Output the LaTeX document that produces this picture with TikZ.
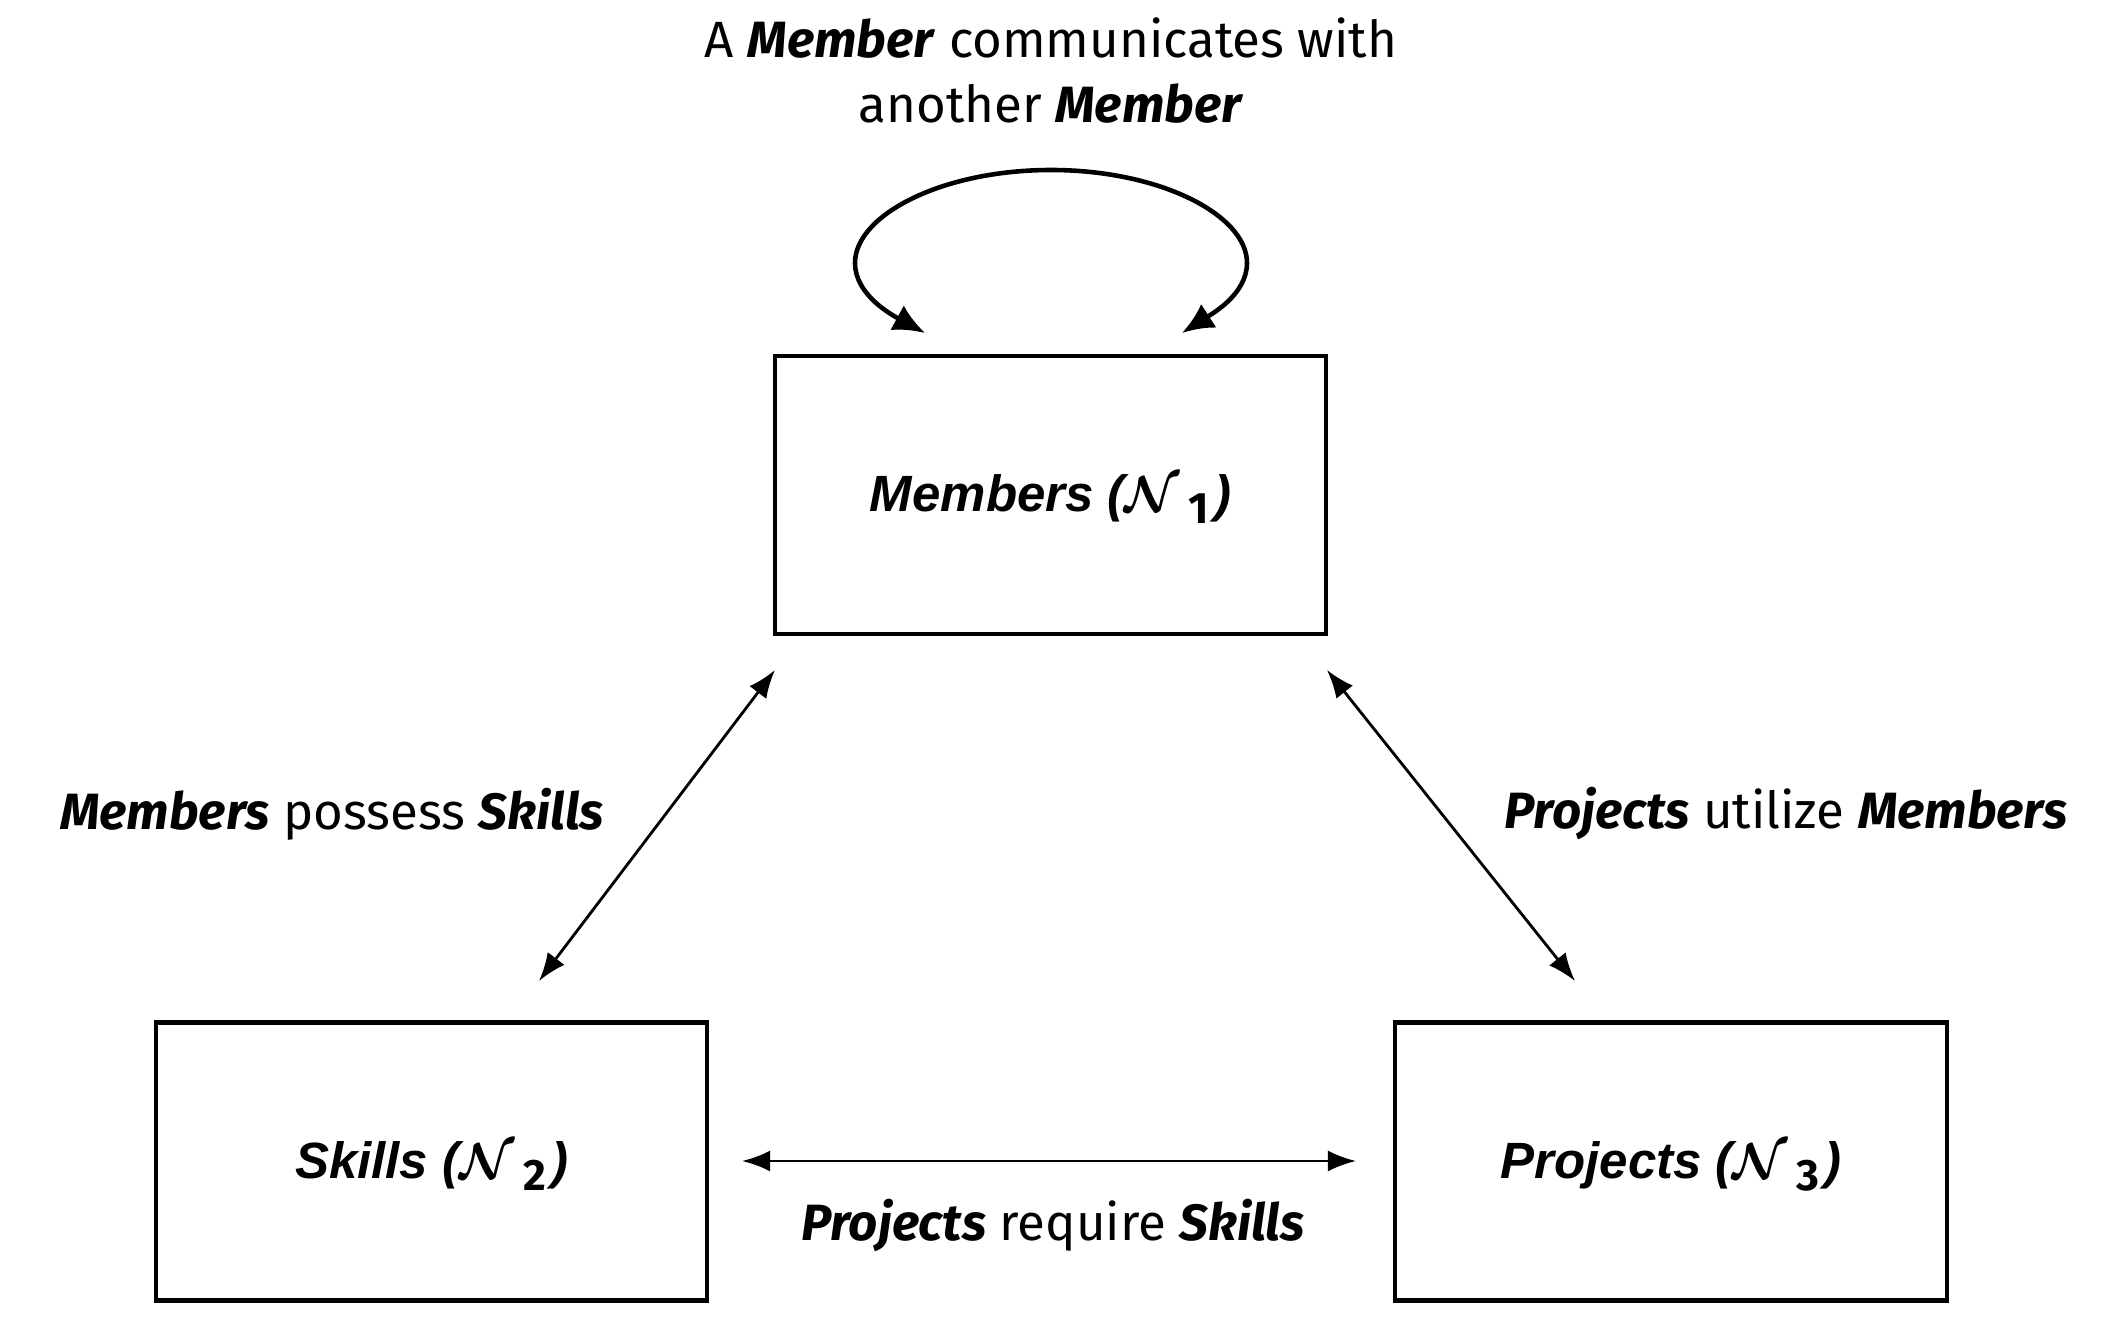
\documentclass[tikz,border=0pt]{standalone}
\usepackage{amsmath}
\usepackage{fontspec}
\setmainfont{Fira Sans}
\newfontfamily\boxfont{Liberation Sans}
\usetikzlibrary{arrows.meta}
\newcommand{\subN}[1]{$\boldsymbol{\mathcal{N}}\,$\raisebox{-0.45ex}{\fontsize{12.5}{13}\selectfont$\mathbf{#1}$}\kern1.5pt}
\begin{document}
\begin{tikzpicture}[x=0.01cm,y=-0.01cm,
  entity/.style={draw,line width=1.2pt,minimum width=5.51cm,minimum height=2.78cm,inner sep=0pt},
  etext/.style={font=\boxfont\fontsize{14.5}{17}\selectfont\bfseries\itshape},
  lbl/.style={font=\fontsize{14.5}{17}\selectfont,align=center,inner sep=0pt},
  link/.style={line width=0.8pt,{Latex[length=8pt,width=6pt]}-{Latex[length=8pt,width=6pt]}},
  loopar/.style={line width=1.3pt,-{Latex[length=9pt,width=8pt]}}]
\useasboundingbox (0,0) rectangle (2124,1328);
\node[entity] (mem) at (1050.5,495) {};
\node[entity] (ski) at (431.5,1161.5) {};
\node[entity] (pro) at (1671,1161.5) {};
\node[etext] (memt) at (1050.5,499) {Members (\subN{1})};
\node[etext] (skit) at (431.5,1166) {Skills (\subN{2})};
\node[etext] (prot) at (1671,1166) {Projects (\subN{3})};
\node[lbl] (top) at (1051,71) {A \textbf{\textit{Member}} communicates with\\[1.5pt]another \textbf{\textit{Member}}};
\node[lbl] (l1) at (332,814) {\textbf{\textit{Members}} possess \textbf{\textit{Skills}}};
\node[lbl] (l2) at (1786,814) {\textbf{\textit{Projects}} utilize \textbf{\textit{Members}}};
\node[lbl] (l3) at (1053,1226) {\textbf{\textit{Projects}} require \textbf{\textit{Skills}}};
\coordinate (a1) at (775,670);
\coordinate (a2) at (539,981);
\coordinate (b1) at (1327,670);
\coordinate (b2) at (1575,981);
\coordinate (c1) at (742,1161);
\coordinate (c2) at (1356,1161);
\draw[link] (a1) -- (a2);
\draw[link] (b1) -- (b2);
\draw[link] (c1) -- (c2);
\coordinate (lt) at (925,333);
\coordinate (rt) at (1182,333);
\coordinate (lx) at (855,263);
\coordinate (rx) at (1247,263);
\coordinate (tp) at (1051,170);
\draw[loopar] (tp) .. controls (1160,170) and (1247,215) .. (rx) .. controls (1247,295) and (1210,315) .. (rt);
\draw[loopar] (tp) .. controls (942,170) and (855,215) .. (lx) .. controls (855,295) and (892,315) .. (lt);
\end{tikzpicture}
\end{document}
